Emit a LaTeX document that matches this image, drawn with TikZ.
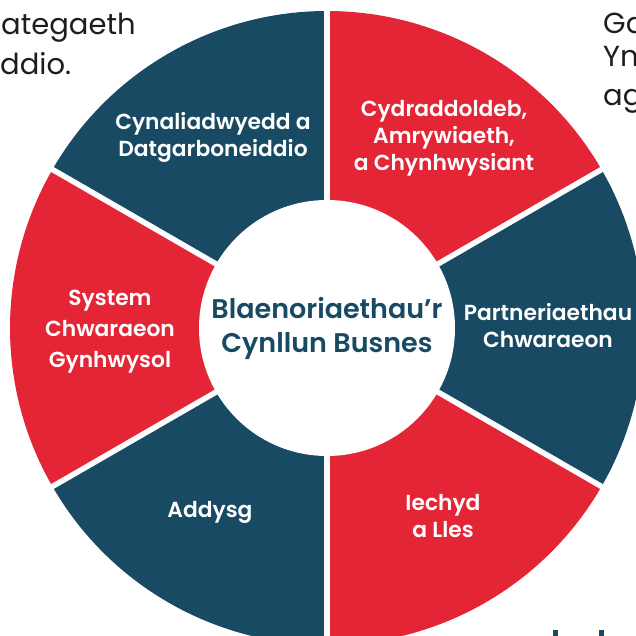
\documentclass[tikz,border=0pt]{standalone}
\usepackage{fontspec}
\setmainfont{Poppins}
\newfontfamily\segfont{Poppins SemiBold}
\usepackage{xcolor}
\usetikzlibrary{positioning}

\definecolor{wheelblue}{HTML}{184A63}
\definecolor{wheelred}{HTML}{E32535}
\definecolor{bodytext}{HTML}{1D1D1B}

\begin{document}
\begin{tikzpicture}[x=1pt, y=1pt]

    % Define styles
    \tikzstyle{gap} = [draw=white, line width=5.5pt]
    \tikzstyle{hub} = [circle, fill=white, minimum size=256pt, inner sep=0pt, text=wheelblue, align=center, font=\segfont\fontsize{27}{34}\selectfont]
    \tikzstyle{seglabel} = [text=white, align=center, inner sep=0pt, font=\segfont\fontsize{21.8}{27}\selectfont]
    \tikzstyle{bodyline} = [anchor=base west, inner sep=0pt, text=bodytext, font=\fontsize{29}{36}\selectfont]

    \useasboundingbox (-327,-308) rectangle (309,328);

    % Sectors
    \foreach \a/\col in {90/wheelred, 30/wheelblue, -30/wheelred, -90/wheelblue, -150/wheelred, 150/wheelblue}
        \fill[\col] (0,0) -- (\a:317pt) arc[start angle=\a, delta angle=-60, radius=317pt] -- cycle;
    \foreach \a in {90, 30, -30, -90, -150, 150}
        \draw[gap] (0,0) -- (\a:330pt);

    % Nodes
    \node (hub) [hub] at (0,0) {Blaenoriaethau’r\\Cynllun Busnes};
    \node (sustain) [seglabel] at (-114,191) {Cynaliadwyedd a\\Datgarboneiddio};
    \node (equality) [seglabel] at (117,190) {Cydraddoldeb,\\Amrywiaeth,\\a Chynhwysiant};
    \node (partner) [seglabel] at (221,2) {Partneriaethau\\Chwaraeon};
    \node (health) [seglabel] at (116,-188) {Iechyd\\a Lles};
    \node (educ) [seglabel] at (-117,-184) {Addysg};
    \node (system) [seglabel, font=\segfont\fontsize{21.8}{31}\selectfont] at (-217,-4) {System\\Chwaraeon\\Gynhwysol};

    % Cut-off text round the wheel
    \node (lefta) [bodyline] at (-326,293) {ategaeth};
    \node (leftb) [bodyline] at (-327,253) {ddio.};
    \node (righta) [bodyline] at (276,294) {Ga};
    \node (rightb) [bodyline] at (276,261) {Yn};
    \node (rightc) [bodyline] at (276,222) {ag};
    \fill[wheelblue] (226,-302) rectangle (231,-310);
    \fill[wheelblue] (272,-302) rectangle (277,-310);

\end{tikzpicture}
\end{document}
